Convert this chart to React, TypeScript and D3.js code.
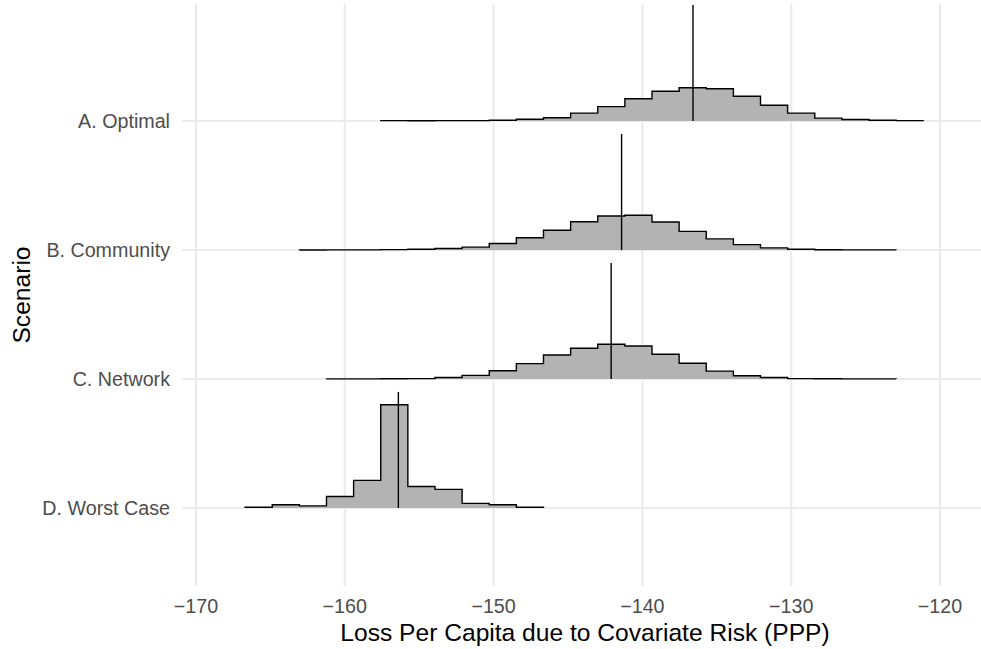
import React from 'react';
import * as d3 from 'd3';

// scenarios from top to bottom
const scenarios = ['A. Optimal', 'B. Community', 'C. Network', 'D. Worst Case'];

// shared histogram bins
const binOrigin = -166.7;
const binWidth = 1.823;
const firstBin = [5, 2, 3, 0];

// bin densities per scenario
const densA = [0.001, 0.0005, 0.001, 0.001, 0.002, 0.005, 0.009, 0.022, 0.040, 0.062, 0.083, 0.093, 0.090, 0.069, 0.044, 0.022, 0.008, 0.004, 0.002, 0.001];
const densB = [0.0002, 0.0003, 0.0003, 0.001, 0.002, 0.004, 0.008, 0.018, 0.034, 0.055, 0.079, 0.095, 0.097, 0.078, 0.052, 0.031, 0.015, 0.006, 0.002, 0.0005, 0.0003, 0.0003];
const densC = [0.0003, 0.0003, 0.0005, 0.001, 0.004, 0.010, 0.023, 0.043, 0.067, 0.086, 0.097, 0.092, 0.069, 0.044, 0.022, 0.009, 0.004, 0.001, 0.0005, 0.0003, 0.0003];
const densD = [0.002, 0.009, 0.006, 0.032, 0.077, 0.288, 0.060, 0.052, 0.013, 0.009, 0.002];
const densities = [densA, densB, densC, densD];

// mean marker per scenario
const means = [-136.6, -141.4, -142.1, -156.4];

const xTicks = [-170, -160, -150, -140, -130, -120];

const W = 981;
const H = 649;
const panel = { left: 182, right: 981, top: 4, bottom: 586 };
const font = '"Liberation Sans", Arial, Helvetica, sans-serif';

export default function App() {
  const x = d3.scaleLinear().domain([-170, -120]).range([196, 940]);
  const y = d3.scalePoint<string>().domain(scenarios).range([121, 508]);
  const step = y.step();
  const maxD = d3.max(densities, (d) => d3.max(d)) as number;
  const h = d3.scaleLinear().domain([0, maxD]).range([0, 0.8 * step]);
  const fmt = d3.format('d');

  const ridge = (i: number) => {
    const base = y(scenarios[i]) as number;
    const pts: [number, number][] = [];
    densities[i].forEach((d, k) => {
      const x0 = binOrigin + (firstBin[i] + k) * binWidth;
      pts.push([x(x0), base - h(d)]);
      pts.push([x(x0 + binWidth), base - h(d)]);
    });
    const first = pts[0][0];
    const last = pts[pts.length - 1][0];
    const top = [[first, base] as [number, number], ...pts, [last, base] as [number, number]];
    const line = d3.line();
    return { area: line(top) + 'Z', outline: line(top) as string, base };
  };

  return (
    <svg width={W} height={H} style={{ position: 'absolute', left: 0, top: 0, background: '#fff' }} fontFamily={font}>
      <defs>
        <clipPath id="panel">
          <rect x={panel.left} y={panel.top} width={panel.right - panel.left} height={panel.bottom - panel.top} />
        </clipPath>
      </defs>
      {/* grid */}
      {xTicks.map((t) => (
        <line key={t} x1={x(t)} x2={x(t)} y1={panel.top} y2={panel.bottom} stroke="#ebebeb" strokeWidth={2.2} />
      ))}
      {scenarios.map((s) => (
        <line key={s} x1={panel.left} x2={panel.right} y1={y(s)} y2={y(s)} stroke="#ebebeb" strokeWidth={2.2} />
      ))}
      <g clipPath="url(#panel)">
        {scenarios.map((s, i) => {
          const r = ridge(i);
          return (
            <g key={s}>
              <path d={r.area} fill="#b3b3b3" stroke="none" />
              <path d={r.outline} fill="none" stroke="#000" strokeWidth={1.4} strokeLinejoin="miter" />
              <line x1={x(means[i])} x2={x(means[i])} y1={r.base} y2={r.base - 0.9 * step} stroke="#000" strokeWidth={1.4} />
            </g>
          );
        })}
      </g>
      {/* y axis labels */}
      {scenarios.map((s) => (
        <text key={s} x={170} y={(y(s) as number) + 7} textAnchor="end" fontSize={19.7} fill="#4d4d4d">{s}</text>
      ))}
      {/* x axis labels */}
      {xTicks.map((t) => (
        <text key={t} x={x(t)} y={613} textAnchor="middle" fontSize={19.7} fill="#4d4d4d">{fmt(t).replace('-', '\u2212')}</text>
      ))}
      <text x={585} y={641} textAnchor="middle" fontSize={24.6} fill="#000">Loss Per Capita due to Covariate Risk (PPP)</text>
      <text transform={`translate(30,${(panel.top + panel.bottom) / 2}) rotate(-90)`} textAnchor="middle" fontSize={24.6} fill="#000">Scenario</text>
    </svg>
  );
}
